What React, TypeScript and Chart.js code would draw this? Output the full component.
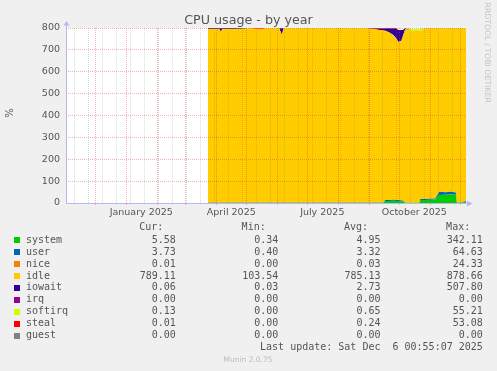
import React, { useEffect, useRef } from 'react';
import { Chart, registerables } from 'chart.js';

Chart.register(...registerables);

// Time axis: days since 1 Nov 2024 00:00
const X_MIN = 0.7;
const X_MAX = 400.7;

const DAYS = [142.7, 150, 154, 155.5, 157, 170, 180, 182, 190, 194, 198, 200, 214, 216.4, 218.5, 240, 270, 300, 311, 318, 320, 324, 328, 331, 333, 336, 337.5, 340, 346, 354, 355, 360, 365, 370, 374, 380, 386, 390.5, 391.5, 396, 400.7];

const SYSTEM = [0.5, 0.5, 0.5, 0.5, 0.5, 0.5, 0.5, 0.5, 0.5, 0.5, 0.5, 0.5, 0.5, 0.5, 0.5, 0.5, 0.5, 0.5, 0.5, 0.5, 9, 9, 10, 9, 9, 8, 8, 1, 1, 1, 14, 14, 15, 16, 37, 38, 39, 38, 1.5, 1.5, 5.58];
const USER = [0.4, 0.4, 0.4, 0.4, 0.4, 0.4, 0.4, 0.4, 0.4, 0.4, 0.4, 0.4, 0.4, 0.4, 0.4, 0.4, 0.4, 0.4, 0.4, 0.4, 5, 5, 5, 5, 5, 4, 4, 0.5, 0.5, 0.5, 4, 4, 4, 5, 15, 11, 12, 10, 1, 1, 3.73];
const NICE = [0.02, 0.02, 0.02, 0.02, 0.02, 0.02, 0.02, 0.02, 0.02, 0.02, 0.02, 0.02, 0.02, 0.02, 0.02, 0.02, 0.02, 0.02, 0.02, 0.02, 0.02, 0.02, 0.02, 0.02, 0.02, 0.02, 0.02, 0.02, 0.02, 0.02, 0.02, 0.02, 0.02, 0.02, 0.02, 0.02, 0.02, 0.02, 0.02, 0.02, 0.01];
const IDLE = [794.4, 794.4, 794.4, 782.4, 794.4, 794.4, 795.4, 797.9, 795.1, 794.1, 795.1, 797.9, 797.9, 768.4, 797.9, 797.9, 797.9, 797.9, 792.6, 787.6, 773.3, 765.3, 753.5, 737.5, 722.3, 729.3, 749.3, 793.8, 784.8, 784.8, 768.6, 780.6, 780.1, 778.1, 747.1, 750.1, 748.1, 751.1, 796.6, 796.6, 789.11];
const IOWAIT = [4, 4, 4, 16, 4, 4, 3, 0.5, 0.5, 0.5, 0.5, 0.5, 0.5, 30, 0.5, 0.5, 0.5, 0.5, 3, 8, 12, 20, 28, 45, 55, 50, 30, 4, 0.5, 0.5, 0.2, 0.2, 0.2, 0.2, 0.2, 0.2, 0.2, 0.2, 0.2, 0.2, 0.06];
const IRQ = [0, 0, 0, 0, 0, 0, 0, 0, 0, 0, 0, 0, 0, 0, 0, 0, 0, 0, 0, 0, 0, 0, 0, 0, 0, 0, 0, 0, 0, 0, 0, 0, 0, 0, 0, 0, 0, 0, 0, 0, 0];
const SOFTIRQ = [0.5, 0.5, 0.5, 0.5, 0.5, 0.5, 0.5, 0.5, 0.5, 0.5, 0.5, 0.5, 0.5, 0.5, 0.5, 0.5, 0.5, 0.5, 0.5, 0.5, 0.5, 0.5, 0.5, 0.5, 0.5, 0.5, 0.5, 0.5, 8, 8, 8, 1, 0.5, 0.5, 0.5, 0.5, 0.5, 0.5, 0.5, 0.5, 0.13];
const STEAL = [0.2, 0.2, 0.2, 0.2, 0.2, 0.2, 0.2, 0.2, 3, 4, 3, 0.2, 0.2, 0.2, 0.2, 0.2, 0.2, 0.2, 3, 3, 0.2, 0.2, 3, 3, 0.2, 0.2, 0.2, 0.2, 0.2, 0.2, 0.2, 0.2, 0.2, 0.2, 0.2, 0.2, 0.2, 0.2, 0.2, 0.2, 0.01];
const GUEST = [0, 0, 0, 0, 0, 0, 0, 0, 0, 0, 0, 0, 0, 0, 0, 0, 0, 0, 0, 0, 0, 0, 0, 0, 0, 0, 0, 0, 0, 0, 0, 0, 0, 0, 0, 0, 0, 0, 0, 0, 0];

const SERIES_NAMES = ['system', 'user', 'nice', 'idle', 'iowait', 'irq', 'softirq', 'steal', 'guest'];
const SERIES_COLORS = ['#00CC00', '#0066B3', '#FF8000', '#FFCC00', '#330099', '#990099', '#CCFF00', '#FF0000', '#808080'];
const SERIES_VALUES = [SYSTEM, USER, NICE, IDLE, IOWAIT, IRQ, SOFTIRQ, STEAL, GUEST];

const CUR = ['5.58', '3.73', '0.01', '789.11', '0.06', '0.00', '0.13', '0.01', '0.00'];
const MIN = ['0.34', '0.40', '0.00', '103.54', '0.03', '0.00', '0.00', '0.00', '0.00'];
const AVG = ['4.95', '3.32', '0.03', '785.13', '2.73', '0.00', '0.65', '0.24', '0.00'];
const MAX = ['342.11', '64.63', '24.33', '878.66', '507.80', '0.00', '55.21', '53.08', '0.00'];

// Month starts (major grid), 14-day minor grid, label positions
const MONTH_DAYS = [30, 61, 92, 120, 151, 181, 212, 242, 273, 304, 334, 365, 395];
const MINOR_DAYS = [9, 23, 37, 51, 65, 79, 93, 107, 121, 135, 149, 163, 177, 191, 205, 219, 233, 247, 261, 275, 289, 303, 317, 331, 345, 359, 373, 387];
const LABEL_DAYS = [76, 166, 257, 349];
const LABEL_TEXTS = ['January 2025', 'April 2025', 'July 2025', 'October 2025'];
const Y_MAX = 800;

const RED = 'rgba(220,40,40,0.36)';
const GREY = 'rgba(120,120,120,0.27)';
const AXIS = '#B8B8F0';
const TEXT = '#555555';

export default function App() {
  const ref = useRef<HTMLCanvasElement | null>(null);

  useEffect(() => {
    document.body.style.margin = '0';
    const canvas = ref.current;
    if (!canvas) return;

    const monthSet = new Set(MONTH_DAYS);
    const labelMap: Record<string, string> = {};
    LABEL_DAYS.forEach((d, i) => { labelMap[String(d)] = LABEL_TEXTS[i]; });
    const labelSet = new Set(LABEL_DAYS);
    const allTicks = [...MINOR_DAYS, ...MONTH_DAYS, ...LABEL_DAYS].filter(v => v > X_MIN && v < X_MAX).sort((a, b) => a - b);

    const datasets = SERIES_NAMES.map((name, i) => ({
      label: name,
      data: DAYS.map((d, j) => ({ x: d, y: SERIES_VALUES[i][j] })),
      backgroundColor: SERIES_COLORS[i],
      borderColor: SERIES_COLORS[i],
      borderWidth: 0,
      pointRadius: 0,
      tension: 0,
      fill: i === 0 ? 'origin' : '-1',
    }));

    const decor = {
      id: 'decor',
      beforeDraw(chart: any) {
        const { ctx, chartArea: a } = chart;
        ctx.save();
        ctx.fillStyle = '#F0F0F0';
        ctx.fillRect(0, 0, chart.width, chart.height);
        ctx.fillStyle = '#FFFFFF';
        ctx.fillRect(a.left, a.top, a.right - a.left, a.bottom - a.top);
        ctx.restore();
      },
      afterDraw(chart: any) {
        const { ctx, chartArea: a } = chart;
        ctx.save();
        // axes
        ctx.strokeStyle = AXIS;
        ctx.fillStyle = AXIS;
        ctx.lineWidth = 1;
        const ax = Math.round(a.left) + 0.5;
        const ay = Math.round(a.bottom) + 0.5;
        ctx.beginPath();
        ctx.moveTo(ax, ay);
        ctx.lineTo(ax, a.top - 3);
        ctx.moveTo(ax, ay);
        ctx.lineTo(a.right + 1, ay);
        ctx.stroke();
        ctx.beginPath();
        ctx.moveTo(ax - 3, a.top - 2.5);
        ctx.lineTo(ax + 3, a.top - 2.5);
        ctx.lineTo(ax, a.top - 7);
        ctx.closePath();
        ctx.fill();
        ctx.beginPath();
        ctx.moveTo(a.right + 1, ay - 3);
        ctx.lineTo(a.right + 1, ay + 3);
        ctx.lineTo(a.right + 6.5, ay);
        ctx.closePath();
        ctx.fill();

        // title
        ctx.fillStyle = TEXT;
        ctx.font = '12.7px "DejaVu Sans"';
        ctx.textAlign = 'center';
        ctx.textBaseline = 'alphabetic';
        ctx.fillText('CPU usage - by year', 248.5, 23.7);

        // y label
        ctx.save();
        ctx.translate(10, 113);
        ctx.rotate(-Math.PI / 2);
        ctx.font = '10px "DejaVu Sans"';
        ctx.textBaseline = 'middle';
        ctx.fillText('%', 0, 0);
        ctx.restore();

        // rrdtool credit
        ctx.save();
        ctx.translate(487, 52.7);
        ctx.rotate(Math.PI / 2);
        ctx.font = '7.8px "DejaVu Sans"';
        ctx.fillStyle = '#C4C4C4';
        ctx.textBaseline = 'middle';
        ctx.textAlign = 'center';
        ctx.fillText('RRDTOOL / TOBI OETIKER', 0, 0);
        ctx.restore();

        // legend table
        ctx.font = '10px "DejaVu Sans Mono"';
        ctx.textBaseline = 'middle';
        ctx.fillStyle = TEXT;
        ctx.textAlign = 'right';
        const hy = 227.3;
        ctx.fillText('Cur:', 163.3, hy);
        ctx.fillText('Min:', 265.7, hy);
        ctx.fillText('Avg:', 368, hy);
        ctx.fillText('Max:', 470.2, hy);
        SERIES_NAMES.forEach((name, i) => {
          const yc = 240 + i * 11.97;
          ctx.fillStyle = SERIES_COLORS[i];
          ctx.fillRect(14, Math.round(yc - 3), 6, 6);
          ctx.fillStyle = TEXT;
          ctx.textAlign = 'left';
          ctx.fillText(name, 26, yc);
          ctx.textAlign = 'right';
          ctx.fillText(CUR[i], 175.8, yc);
          ctx.fillText(MIN[i], 278.3, yc);
          ctx.fillText(AVG[i], 380.5, yc);
          ctx.fillText(MAX[i], 482.8, yc);
        });
        ctx.textAlign = 'right';
        ctx.fillText('Last update: Sat Dec  6 00:55:07 2025', 482.8, 347.7);
        ctx.textAlign = 'center';
        ctx.fillStyle = '#BBBBBB';
        ctx.font = '7.5px "DejaVu Sans"';
        ctx.fillText('Munin 2.0.75', 248, 360);
        ctx.restore();
      },
    };

    const chart = new Chart(canvas, {
      type: 'line',
      data: { datasets: datasets as any },
      plugins: [decor],
      options: {
        animation: false,
        responsive: false,
        devicePixelRatio: 1,
        layout: { padding: { top: 28, left: 0, right: 31, bottom: 148 } },
        plugins: { legend: { display: false }, tooltip: { enabled: false }, title: { display: false } },
        elements: { line: { borderWidth: 0 } },
        scales: {
          x: {
            type: 'linear',
            min: X_MIN,
            max: X_MAX,
            afterBuildTicks: (s: any) => { s.ticks = allTicks.map(v => ({ value: v })); },
            afterFit: (s: any) => { s.height = 20; },
            grid: {
              z: 1,
              lineWidth: 1,
              drawTicks: true,
              tickLength: 2,
              color: (c: any) => {
                const v = c.tick ? c.tick.value : 0;
                if (labelSet.has(v)) return 'rgba(0,0,0,0)';
                return monthSet.has(v) ? RED : GREY;
              },
              tickColor: (c: any) => {
                const v = c.tick ? c.tick.value : 0;
                return monthSet.has(v) ? RED : 'rgba(0,0,0,0)';
              },
            },
            border: { display: false, dash: [1, 1] },
            ticks: {
              autoSkip: false,
              maxRotation: 0,
              minRotation: 0,
              padding: 2,
              color: TEXT,
              font: { family: '"DejaVu Sans"', size: 9.5 },
              callback: (v: any) => labelMap[String(v)] ?? '',
            },
          },
          y: {
            type: 'linear',
            stacked: true,
            min: 0,
            max: Y_MAX,
            afterFit: (s: any) => { s.width = 66; },
            grid: {
              z: 1,
              lineWidth: 1,
              drawTicks: false,
              color: (c: any) => {
                const v = c.tick ? c.tick.value : 0;
                return v % 100 === 0 ? RED : GREY;
              },
            },
            border: { display: false, dash: [1, 1] },
            ticks: {
              stepSize: 50,
              padding: 6,
              color: TEXT,
              font: { family: '"DejaVu Sans"', size: 9.5 },
              callback: (v: any) => (Number(v) % 100 === 0 ? String(v) : ''),
            },
          },
        },
      } as any,
    });

    return () => { chart.destroy(); };
  }, []);

  return (
    <div style={{ width: 497, height: 371 }}>
      <canvas ref={ref} width={497} height={371} style={{ display: 'block' }} />
    </div>
  );
}
